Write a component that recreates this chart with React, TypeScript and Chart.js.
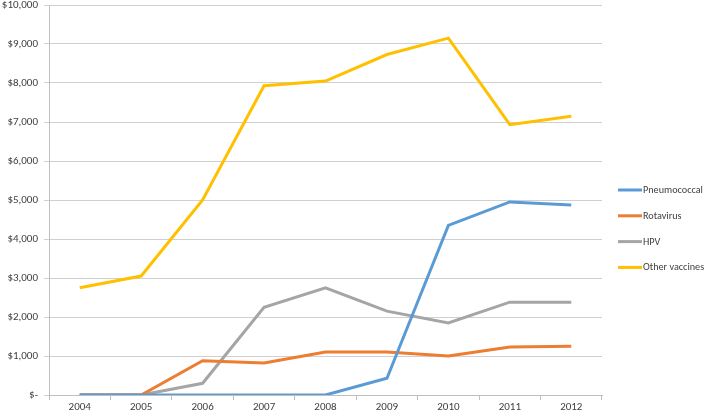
import React, { useEffect, useRef } from "react";
import { Chart, registerables } from "chart.js";

Chart.register(...registerables);

const years = ["2004", "2005", "2006", "2007", "2008", "2009", "2010", "2011", "2012"];
const pneumococcal = [0, 0, 0, 0, 0, 430, 4350, 4950, 4870];
const rotavirus = [0, 0, 880, 820, 1100, 1100, 1000, 1230, 1250];
const hpv = [0, 0, 300, 2250, 2750, 2150, 1850, 2380, 2380];
const otherVaccines = [2750, 3050, 5000, 7930, 8050, 8730, 9150, 6930, 7150];
const seriesNames = ["Pneumococcal", "Rotavirus", "HPV", "Other vaccines"];
const seriesColors = ["#5B9BD5", "#ED7D31", "#A5A5A5", "#FFC000"];

const FONT = "Carlito, Lato, 'Liberation Sans', sans-serif";

const legendPlugin = {
  id: "sideLegend",
  afterDraw(chart: any) {
    const ctx = chart.ctx;
    const ds = chart.data.datasets;
    const x0 = 618;
    const lineW = 24;
    const gap = 25.8;
    const startY = 190;
    ctx.save();
    ctx.font = "10.2px " + FONT;
    ctx.textBaseline = "middle";
    ctx.textAlign = "left";
    ds.forEach((d: any, i: number) => {
      const y = startY + i * gap;
      ctx.strokeStyle = d.borderColor;
      ctx.lineWidth = 3;
      ctx.beginPath();
      ctx.moveTo(x0, y);
      ctx.lineTo(x0 + lineW, y);
      ctx.stroke();
      ctx.fillStyle = "#404040";
      ctx.fillText(d.label, x0 + lineW + 1, y + 0.5);
    });
    ctx.restore();
  },
};

export default function App() {
  const ref = useRef<HTMLCanvasElement | null>(null);
  useEffect(() => {
    document.body.style.margin = "0";
    const values = [pneumococcal, rotavirus, hpv, otherVaccines];
    const chart = new Chart(ref.current as HTMLCanvasElement, {
      type: "line",
      data: {
        labels: years,
        datasets: values.map((v, i) => ({
          label: seriesNames[i],
          data: v,
          borderColor: seriesColors[i],
          backgroundColor: seriesColors[i],
          borderWidth: 3,
          pointRadius: 0,
          tension: 0,
          fill: false,
        })),
      },
      options: {
        responsive: false,
        animation: false,
        layout: { padding: { top: 5, right: 108, left: 0, bottom: 0 } },
        plugins: { legend: { display: false }, tooltip: { enabled: false } },
        scales: {
          x: {
            offset: true,
            grid: {
              display: true,
              offset: true,
              drawOnChartArea: false,
              tickLength: 5,
              color: "#BFBFBF",
            },
            border: { color: "#BFBFBF" },
            ticks: {
              color: "#404040",
              font: { family: FONT, size: 11 },
              padding: 1,
              maxRotation: 0,
            },
            afterFit(scale: any) {
              scale.height = 18;
              scale.paddingLeft = 0;
              scale.paddingRight = 0;
            },
          },
          y: {
            min: 0,
            max: 10000,
            grid: { color: "#D0D0D0", tickLength: 5 },
            border: { color: "#BFBFBF" },
            ticks: {
              stepSize: 1000,
              color: "#404040",
              font: { family: FONT, size: 11 },
              padding: 6,
              callback: (v: any) =>
                Number(v) === 0 ? "$-" : "$" + Number(v).toLocaleString("en-US"),
            },
            afterFit(scale: any) {
              scale.width = 49;
              scale.paddingTop = 0;
              scale.paddingBottom = 0;
            },
          },
        },
      },
      plugins: [legendPlugin],
    });
    return () => chart.destroy();
  }, []);
  return <canvas ref={ref} width={710} height={413} style={{ display: "block" }} />;
}
